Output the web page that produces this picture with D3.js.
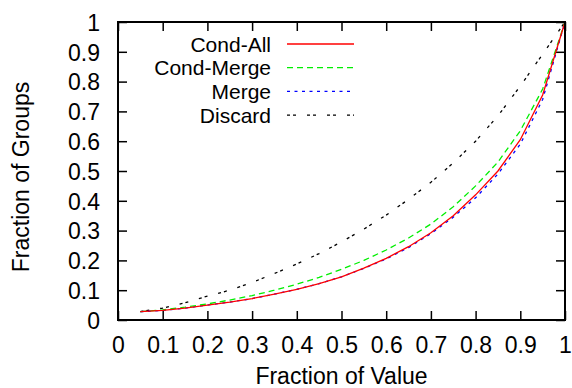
<!DOCTYPE html>
<html>
<head>
<meta charset="utf-8">
<script src="https://cdn.jsdelivr.net/npm/d3@7"></script>
<style>
  body { margin: 0; background: #fff; }
  svg { display: block; font-family: "Liberation Sans", Arial, Helvetica, sans-serif; }
</style>
</head>
<body>
<svg id="chart" width="572" height="388"></svg>
<script>
// fraction of value (x) sampled every 0.05
const fracValue = [0.05, 0.1, 0.15, 0.2, 0.25, 0.3, 0.35, 0.4, 0.45, 0.5,
                   0.55, 0.6, 0.65, 0.7, 0.75, 0.8, 0.85, 0.9, 0.95, 1];

const condAll   = [0.028, 0.032, 0.040, 0.050, 0.060, 0.072, 0.087, 0.103, 0.122, 0.145,
                   0.174, 0.207, 0.246, 0.293, 0.350, 0.420, 0.500, 0.605, 0.755, 1];
const condMerge = [0.028, 0.034, 0.043, 0.054, 0.067, 0.082, 0.100, 0.120, 0.143, 0.170,
                   0.200, 0.235, 0.275, 0.322, 0.380, 0.450, 0.530, 0.635, 0.775, 1];
const merge     = [0.028, 0.032, 0.040, 0.050, 0.060, 0.072, 0.087, 0.103, 0.122, 0.145,
                   0.173, 0.205, 0.243, 0.290, 0.345, 0.410, 0.490, 0.590, 0.740, 1];
const discard   = [0.028, 0.040, 0.058, 0.080, 0.100, 0.126, 0.156, 0.188, 0.223, 0.262,
                   0.305, 0.352, 0.405, 0.462, 0.527, 0.600, 0.685, 0.785, 0.892, 1];

const seriesNames = ["Cond-All", "Cond-Merge", "Merge", "Discard"];
const tickVals = [0, 0.1, 0.2, 0.3, 0.4, 0.5, 0.6, 0.7, 0.8, 0.9, 1];

const series = [
  { name: seriesNames[0], values: condAll,   color: "#ff0000", dash: null },
  { name: seriesNames[1], values: condMerge, color: "#00ee00", dash: "6,4" },
  { name: seriesNames[2], values: merge,     color: "#0000ff", dash: "3,4.5" },
  { name: seriesNames[3], values: discard,   color: "#000000", dash: "3,3,3,11" }
];

const margin = { left: 118, right: 7, top: 22, bottom: 68 };
const W = 572, H = 388;
const width = W - margin.left - margin.right;
const height = H - margin.top - margin.bottom;
const fontSize = 23;
const legendFont = 21;
const tick = 9;

const svg = d3.select("#chart");
const g = svg.append("g").attr("transform", `translate(${margin.left},${margin.top})`);

const x = d3.scaleLinear().domain([0, 1]).range([0, width]);
const y = d3.scaleLinear().domain([0, 1]).range([height, 0]);
const fmt = d3.format("~g");

// Bottom axis with labels, ticks pointing inward
const xAxis = g.append("g")
  .attr("transform", `translate(0,${height})`)
  .call(d3.axisBottom(x).tickValues(tickVals).tickFormat(fmt).tickSizeInner(-tick).tickSizeOuter(0));
xAxis.selectAll("text").attr("y", 33).attr("dy", 0).style("font-size", fontSize + "px").attr("fill", "#000");

// Left axis
const yAxis = g.append("g")
  .call(d3.axisLeft(y).tickValues(tickVals).tickFormat(fmt).tickSizeInner(-tick).tickSizeOuter(0));
yAxis.selectAll("text").attr("x", -18).attr("dy", "0.36em").style("font-size", fontSize + "px").attr("fill", "#000");

// Mirrored top and right ticks
g.append("g")
  .call(d3.axisTop(x).tickValues(tickVals).tickFormat("").tickSizeInner(-tick).tickSizeOuter(0));
g.append("g")
  .attr("transform", `translate(${width},0)`)
  .call(d3.axisRight(y).tickValues(tickVals).tickFormat("").tickSizeInner(-tick).tickSizeOuter(0));

g.selectAll(".domain").remove();
g.selectAll(".tick line").attr("stroke", "#000").attr("stroke-width", 1.5);

// Curves
const line = d3.line()
  .x((d, i) => x(fracValue[i]))
  .y(d => y(d));

series.slice().reverse().forEach(s => {
  g.append("path")
    .datum(s.values)
    .attr("d", line)
    .attr("fill", "none")
    .attr("stroke", s.color)
    .attr("stroke-width", 1.3)
    .attr("stroke-dasharray", s.dash);
});

// Border
g.append("rect")
  .attr("width", width).attr("height", height)
  .attr("fill", "none").attr("stroke", "#000").attr("stroke-width", 2);

// Legend
const legend = svg.append("g");
series.forEach((s, i) => {
  const ly = 44 + i * 23.7;
  legend.append("text")
    .attr("x", 271).attr("y", ly).attr("dy", "0.36em")
    .attr("text-anchor", "end")
    .style("font-size", legendFont + "px")
    .text(s.name);
  legend.append("line")
    .attr("x1", 287).attr("x2", 354).attr("y1", ly).attr("y2", ly)
    .attr("stroke", s.color).attr("stroke-width", 1.3)
    .attr("stroke-dasharray", s.dash);
});

// Axis titles
svg.append("text")
  .attr("x", margin.left + width / 2).attr("y", 384)
  .attr("text-anchor", "middle")
  .style("font-size", fontSize + "px")
  .text("Fraction of Value");

svg.append("text")
  .attr("transform", `translate(29,${margin.top + height / 2 + 6}) rotate(-90)`)
  .attr("text-anchor", "middle")
  .style("font-size", fontSize + "px")
  .text("Fraction of Groups");
</script>
</body>
</html>
